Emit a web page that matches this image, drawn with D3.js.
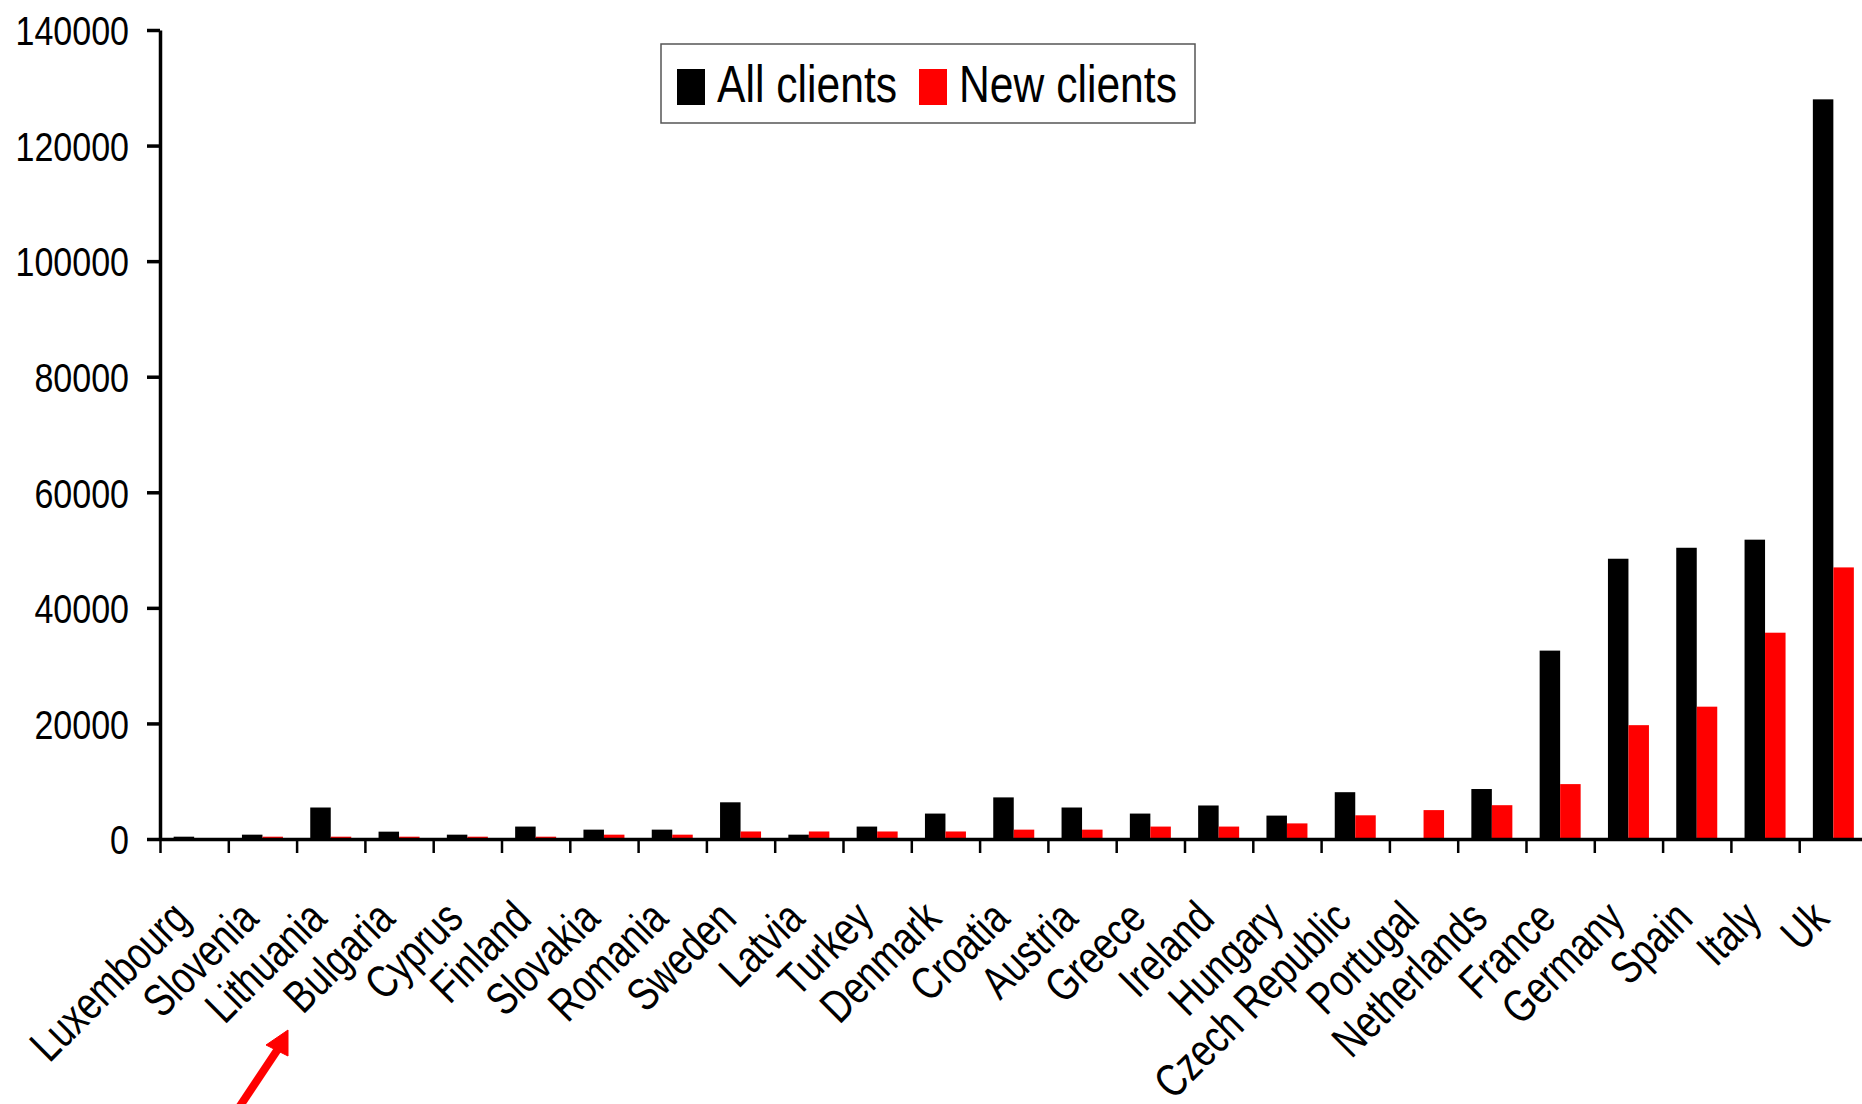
<!DOCTYPE html>
<html>
<head>
<meta charset="utf-8">
<script src="https://cdn.jsdelivr.net/npm/d3@7"></script>
<style>
  body { margin: 0; background: #fff; }
  svg { display: block; font-family: "Liberation Sans", Arial, sans-serif; }
</style>
</head>
<body>
<svg id="chart" width="1862" height="1104"></svg>
<script>
// data
var categories = ["Luxembourg", "Slovenia", "Lithuania", "Bulgaria", "Cyprus", "Finland",
  "Slovakia", "Romania", "Sweden", "Latvia", "Turkey", "Denmark", "Croatia", "Austria",
  "Greece", "Ireland", "Hungary", "Czech Republic", "Portugal", "Netherlands", "France",
  "Germany", "Spain", "Italy", "Uk"];
var allClients = [400, 750, 5450, 1270, 750, 2150, 1620, 1620, 6350, 750, 2150, 4400, 7200,
  5450, 4400, 5800, 4050, 8100, 0, 8650, 32600, 48500, 50400, 51800, 128000];
var newClients = [0, 400, 400, 400, 400, 400, 750, 750, 1300, 1300, 1300, 1300, 1620, 1620,
  2150, 2150, 2700, 4100, 5000, 5850, 9500, 19700, 22900, 35700, 47000];
var seriesNames = ["All clients", "New clients"];
var seriesColors = ["#000000", "#ff0000"];
var yTicks = [0, 20000, 40000, 60000, 80000, 100000, 120000, 140000];

var svg = d3.select("#chart");

// plot area
var plotLeft = 160, plotBottom = 839, plotTop = 30, step = 68.3;
var plotRight = plotLeft + step * categories.length;

var x = d3.scaleBand().domain(categories).range([plotLeft, plotRight]).padding(0);
var xEdge = d3.scaleLinear().domain([0, categories.length]).range([plotLeft, plotRight]);
var x1 = d3.scaleBand().domain(seriesNames).range([-20.5, 20.5]).padding(0);
var y = d3.scaleLinear().domain([0, 140000]).range([plotBottom, plotTop]);

var rows = categories.map(function (c, i) {
  return { cat: c, values: [allClients[i], newClients[i]] };
});

// bars
var groups = svg.append("g").selectAll("g")
  .data(rows).enter().append("g")
  .attr("transform", function (d) { return "translate(" + (x(d.cat) + x.bandwidth() / 2) + ",0)"; });

groups.selectAll("rect")
  .data(function (d) { return d.values.map(function (v, k) { return { name: seriesNames[k], v: v, k: k }; }); })
  .enter().append("rect")
  .attr("x", function (d) { return x1(d.name); })
  .attr("width", x1.bandwidth())
  .attr("y", function (d) { return y(d.v); })
  .attr("height", function (d) { return plotBottom - y(d.v); })
  .attr("fill", function (d) { return seriesColors[d.k]; });

// x axis: ticks between categories
var xAxis = svg.append("g")
  .attr("transform", "translate(0," + plotBottom + ")")
  .call(d3.axisBottom(xEdge).tickValues(d3.range(0, categories.length + 1)).tickFormat("").tickSize(14).tickSizeOuter(0));
xAxis.select(".domain").attr("stroke", "#000").attr("stroke-width", 3.5);
xAxis.selectAll(".tick line").attr("stroke", "#000").attr("stroke-width", 2.5);

// y axis
var yAxis = svg.append("g")
  .attr("transform", "translate(" + plotLeft + ",0)")
  .call(d3.axisLeft(y).tickValues(yTicks).tickFormat(d3.format("d")).tickSize(13).tickSizeOuter(0));
yAxis.select(".domain").attr("stroke", "#000").attr("stroke-width", 3.5);
yAxis.selectAll(".tick line").attr("stroke", "#000").attr("stroke-width", 3.5);
yAxis.selectAll(".tick text")
  .attr("x", 0).attr("dy", "0.36em")
  .attr("transform", "translate(-31,0) scale(0.83,1)")
  .attr("text-anchor", "end")
  .attr("font-size", 41)
  .attr("font-family", "Liberation Sans, Arial, sans-serif")
  .attr("fill", "#000");

// category labels, rotated
svg.append("g").selectAll("text")
  .data(categories).enter().append("text")
  .attr("transform", function (d) {
    return "translate(" + (x(d) + x.bandwidth() / 2 - 2) + ",921) rotate(-45) scale(0.79,1)";
  })
  .attr("text-anchor", "end")
  .attr("font-size", 46)
  .attr("fill", "#000")
  .text(function (d) { return d; });

// legend
var legend = svg.append("g");
legend.append("rect")
  .attr("x", 661).attr("y", 44).attr("width", 534).attr("height", 79)
  .attr("fill", "#fff").attr("stroke", "#555").attr("stroke-width", 1.5);
var legendX = [677, 919];
seriesNames.forEach(function (name, k) {
  legend.append("rect")
    .attr("x", legendX[k]).attr("y", 69).attr("width", 28).attr("height", 36)
    .attr("fill", seriesColors[k]);
  legend.append("text")
    .attr("transform", "translate(" + (legendX[k] + 40) + ",102) scale(0.82,1)")
    .attr("font-size", 52)
    .attr("fill", "#000")
    .text(name);
});

// red arrow pointing at Bulgaria
var arrow = svg.append("g").attr("fill", "#ff0000").attr("stroke", "#ff0000");
arrow.append("line")
  .attr("x1", 236).attr("y1", 1112).attr("x2", 280).attr("y2", 1046)
  .attr("stroke-width", 8);
arrow.append("path")
  .attr("d", "M288,1030 L266,1045 L288,1056 Z")
  .attr("stroke-width", 1);
</script>
</body>
</html>
